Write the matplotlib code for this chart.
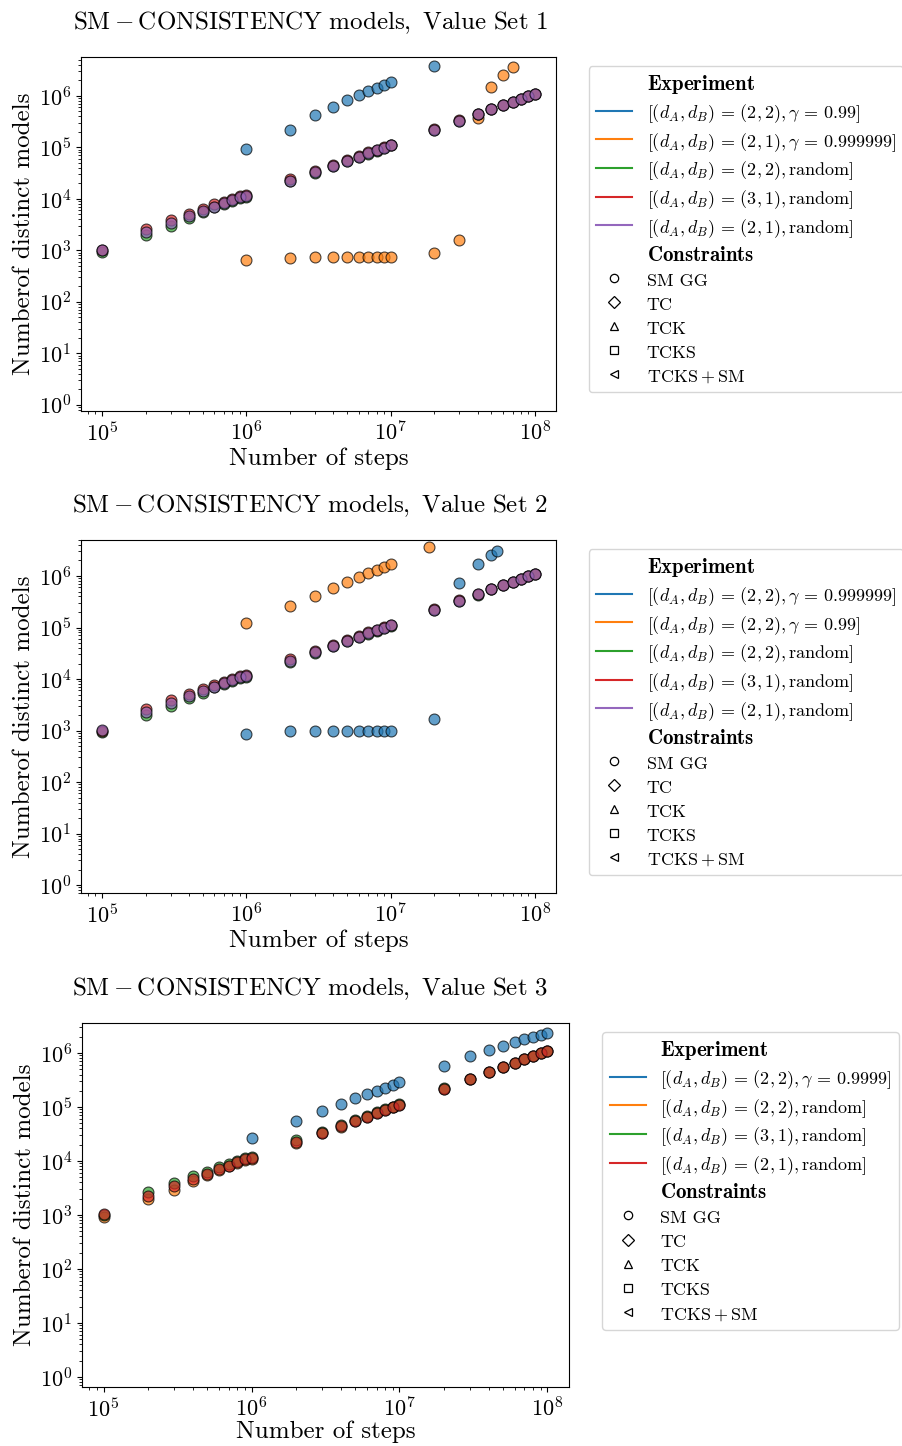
import matplotlib
matplotlib.use("Agg")
import matplotlib.pyplot as plt
from matplotlib.lines import Line2D

plt.rcParams.update({
    "font.family": "serif",
    "font.serif": ["cmr10"],
    "mathtext.fontset": "cm",
    "axes.formatter.use_mathtext": True,
    "axes.unicode_minus": False,
})

# ---------------- data ----------------
steps_all = [1e5, 2e5, 3e5, 4e5, 5e5, 6e5, 7e5, 8e5, 9e5,
             1e6, 2e6, 3e6, 4e6, 5e6, 6e6, 7e6, 8e6, 9e6,
             1e7, 2e7, 3e7, 4e7, 5e7, 6e7, 7e7, 8e7, 9e7, 1e8]

random_22 = [920, 2000, 2950, 4350, 5450, 6850, 7950, 9150, 1.04e4,
             1.09e4, 2.18e4, 3.25e4, 4.35e4, 5.45e4, 6.5e4, 7.6e4, 8.7e4, 9.8e4,
             1.09e5, 2.18e5, 3.27e5, 4.37e5, 5.47e5, 6.56e5, 7.66e5, 8.75e5, 9.85e5, 1.09e6]
random_31 = [1000, 2650, 3850, 5200, 6350, 7800, 8700, 1.0e4, 1.13e4,
             1.2e4, 2.4e4, 3.5e4, 4.6e4, 5.7e4, 6.9e4, 8.0e4, 9.1e4, 1.02e5,
             1.12e5, 2.25e5, 3.35e5, 4.45e5, 5.55e5, 6.65e5, 7.75e5, 8.85e5, 9.95e5, 1.1e6]
random_21 = [1030, 2280, 3400, 4700, 5800, 7100, 8200, 9400, 1.07e4,
             1.12e4, 2.25e4, 3.3e4, 4.4e4, 5.5e4, 6.6e4, 7.7e4, 8.8e4, 9.9e4,
             1.1e5, 2.2e5, 3.3e5, 4.4e5, 5.5e5, 6.6e5, 7.7e5, 8.8e5, 9.9e5, 1.1e6]

# Value set 1
vs1_g099_steps = [1e6, 2e6, 3e6, 4e6, 5e6, 6e6, 7e6, 8e6, 9e6, 1e7, 2e7]
vs1_g099 = [9.3e4, 2.2e5, 4.2e5, 6.1e5, 8.3e5, 1.03e6, 1.25e6, 1.45e6, 1.66e6, 1.9e6, 3.8e6]
vs1_g999999_steps = [1e6, 2e6, 3e6, 4e6, 5e6, 6e6, 7e6, 8e6, 9e6, 1e7,
                     2e7, 3e7, 4e7, 5e7, 6e7, 7e7]
vs1_g999999 = [660, 722, 730, 735, 738, 740, 745, 748, 750, 755,
               875, 1560, 3.8e5, 1.5e6, 2.6e6, 3.6e6]

# Value set 2
vs2_g999999_steps = [1e6, 2e6, 3e6, 4e6, 5e6, 6e6, 7e6, 8e6, 9e6, 1e7,
                     2e7, 3e7, 4e7, 5e7, 5.5e7]
vs2_g999999 = [860, 980, 985, 990, 990, 990, 995, 995, 995, 1000,
               1650, 7.2e5, 1.7e6, 2.6e6, 3.1e6]
vs2_g099_steps = [1e6, 2e6, 3e6, 4e6, 5e6, 6e6, 7e6, 8e6, 9e6, 1e7, 1.85e7]
vs2_g099 = [1.25e5, 2.6e5, 4.1e5, 5.9e5, 7.6e5, 9.5e5, 1.14e6, 1.33e6, 1.52e6, 1.7e6, 3.6e6]

# Value set 3
vs3_g9999_steps = [1e6, 2e6, 3e6, 4e6, 5e6, 6e6, 7e6, 8e6, 9e6, 1e7,
                   2e7, 3e7, 4e7, 5e7, 6e7, 7e7, 8e7, 9e7, 1e8]
vs3_g9999 = [2.7e4, 5.5e4, 8.5e4, 1.15e5, 1.45e5, 1.72e5, 2.0e5, 2.28e5, 2.55e5, 2.86e5,
             5.7e5, 8.7e5, 1.12e6, 1.35e6, 1.58e6, 1.8e6, 2.0e6, 2.2e6, 2.4e6]

labels1 = [r"$[(d_A, d_B) \,=\, (2,2), \gamma \,=\, 0.99]$",
           r"$[(d_A, d_B) \,=\, (2,1), \gamma \,=\, 0.999999]$",
           r"$[(d_A, d_B) \,=\, (2,2), \mathrm{random}]$",
           r"$[(d_A, d_B) \,=\, (3,1), \mathrm{random}]$",
           r"$[(d_A, d_B) \,=\, (2,1), \mathrm{random}]$"]
labels2 = [r"$[(d_A, d_B) \,=\, (2,2), \gamma \,=\, 0.999999]$",
           r"$[(d_A, d_B) \,=\, (2,2), \gamma \,=\, 0.99]$",
           r"$[(d_A, d_B) \,=\, (2,2), \mathrm{random}]$",
           r"$[(d_A, d_B) \,=\, (3,1), \mathrm{random}]$",
           r"$[(d_A, d_B) \,=\, (2,1), \mathrm{random}]$"]
labels3 = [r"$[(d_A, d_B) \,=\, (2,2), \gamma \,=\, 0.9999]$",
           r"$[(d_A, d_B) \,=\, (2,2), \mathrm{random}]$",
           r"$[(d_A, d_B) \,=\, (3,1), \mathrm{random}]$",
           r"$[(d_A, d_B) \,=\, (2,1), \mathrm{random}]$"]
constraints = ["SM GG", "TC", "TCK", "TCKS", r"$\mathrm{TCKS} + \mathrm{SM}$"]
constraint_markers = ["o", "D", "^", "s", "<"]
titles = [r"$\mathrm{SM} - \mathrm{CONSISTENCY\ models,\ Value\ Set\ 1}$",
          r"$\mathrm{SM} - \mathrm{CONSISTENCY\ models,\ Value\ Set\ 2}$",
          r"$\mathrm{SM} - \mathrm{CONSISTENCY\ models,\ Value\ Set\ 3}$"]
colors = ["C0", "C1", "C2", "C3", "C4"]

panels = [
    dict(series=[(vs1_g099_steps, vs1_g099), (vs1_g999999_steps, vs1_g999999),
                 (steps_all, random_22), (steps_all, random_31), (steps_all, random_21)],
         labels=labels1, rect=(81, 556, 57, 411), ylim=(0.76, 5.7e6), xpad=2),
    dict(series=[(vs2_g999999_steps, vs2_g999999), (vs2_g099_steps, vs2_g099),
                 (steps_all, random_22), (steps_all, random_31), (steps_all, random_21)],
         labels=labels2, rect=(81, 556, 540, 893), ylim=(0.70, 5.0e6), xpad=2),
    dict(series=[(vs3_g9999_steps, vs3_g9999),
                 (steps_all, random_22), (steps_all, random_31), (steps_all, random_21)],
         labels=labels3, rect=(82, 569, 1023, 1387), ylim=(0.65, 3.6e6), xpad=0),
]

W, H = 903, 1446
fig = plt.figure(figsize=(W / 100, H / 100), dpi=100)

for i, p in enumerate(panels):
    l, r, t, b = p["rect"]
    ax = fig.add_axes([l / W, 1 - b / H, (r - l) / W, (b - t) / H])
    for k, (xs, ys) in enumerate(p["series"]):
        ax.scatter(xs, ys, s=62, color=colors[k], alpha=0.7,
                   edgecolors="black", linewidths=0.8, marker="o", zorder=2)
    ax.set_xscale("log")
    ax.set_yscale("log")
    ax.set_xlim(10 ** 4.854, 10 ** 8.146)
    ax.set_ylim(*p["ylim"])
    ax.tick_params(labelsize=16)
    ax.set_xlabel("Number of steps", fontsize=18, labelpad=p["xpad"])
    ax.set_ylabel("Numberof distinct models", fontsize=18, labelpad=3)
    ax.set_title(titles[i], fontsize=18, pad=20, x=(310 - l) / (r - l))

    handles = [Line2D([], [], linestyle="none", label=r"$\mathbf{Experiment}$")]
    for k, lab in enumerate(p["labels"]):
        handles.append(Line2D([0], [0], color=colors[k], lw=1.5, label=lab))
    handles.append(Line2D([], [], linestyle="none", label=r"$\mathbf{Constraints}$"))
    for m, lab in zip(constraint_markers, constraints):
        handles.append(Line2D([0], [0], linestyle="none", marker=m, markersize=6,
                              markerfacecolor="none", markeredgecolor="black",
                              markeredgewidth=0.9, label=lab))
    leg = ax.legend(handles=handles, loc="upper left", bbox_to_anchor=(1.05, 1),
                    fontsize=13, frameon=True, labelspacing=0.33, handleheight=1.15)
    texts = leg.get_texts()
    texts[0].set_fontsize(15)
    texts[len(p["labels"]) + 1].set_fontsize(15)

fig.savefig("out.png", dpi=100)
